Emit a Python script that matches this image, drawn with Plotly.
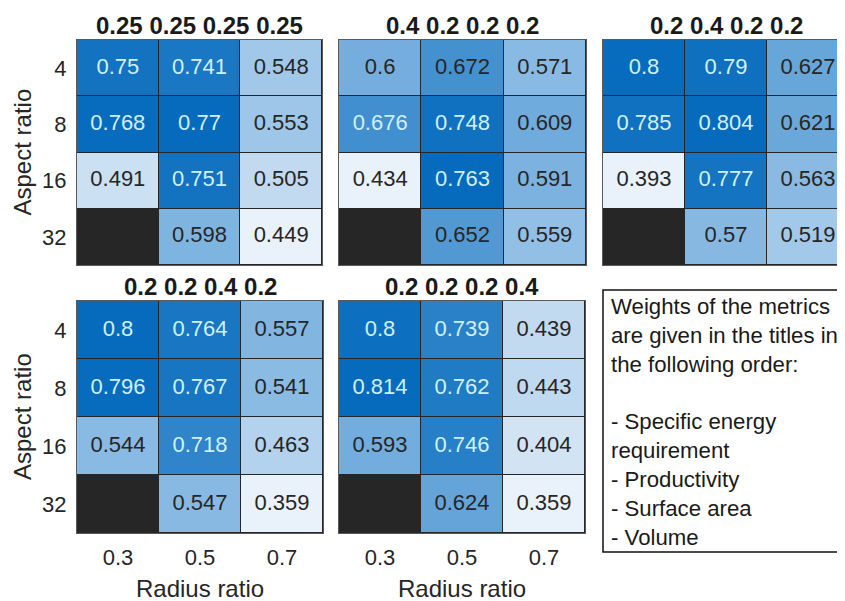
import plotly.graph_objects as go
import numpy as np

# ---------------- data ----------------
radius_ratio = ["0.3", "0.5", "0.7"]          # columns
aspect_ratio = ["4", "8", "16", "32"]         # rows (top to bottom)
titles = ["0.25 0.25 0.25 0.25", "0.4 0.2 0.2 0.2", "0.2 0.4 0.2 0.2",
          "0.2 0.2 0.4 0.2", "0.2 0.2 0.2 0.4"]

scores_a = [[0.75, 0.741, 0.548], [0.768, 0.77, 0.553], [0.491, 0.751, 0.505], [None, 0.598, 0.449]]
scores_b = [[0.6, 0.672, 0.571], [0.676, 0.748, 0.609], [0.434, 0.763, 0.591], [None, 0.652, 0.559]]
scores_c = [[0.8, 0.79, 0.627], [0.785, 0.804, 0.621], [0.393, 0.777, 0.563], [None, 0.57, 0.519]]
scores_d = [[0.8, 0.764, 0.557], [0.796, 0.767, 0.541], [0.544, 0.718, 0.463], [None, 0.547, 0.359]]
scores_e = [[0.8, 0.739, 0.439], [0.814, 0.762, 0.443], [0.593, 0.746, 0.404], [None, 0.624, 0.359]]

note_lines = ["Weights of the metrics", "are given in the titles in", "the following order:", "",
              "- Specific energy", "requirement", "- Productivity", "- Surface area", "- Volume"]

panels = [scores_a, scores_b, scores_c, scores_d, scores_e]

# ---------------- layout helpers ----------------
OFF = 8                      # page body margin
W, H = 845 - OFF, 601 - OFF  # figure size that fits the window
def fx(px): return (px - OFF) / W
def fy(py): return 1 - (py - OFF) / H

# pixel boxes in window coordinates (left, right, top, bottom)
boxes = [(77, 322, 40, 265), (339, 586, 40, 265), (603, 849, 40, 265),
         (77, 323, 301, 533), (339, 585, 301, 533)]

FONT = "Liberation Sans, Arial, sans-serif"
colorscale = [[0, "#e9f1fa"], [0.5, "#76afde"], [1, "#066bbd"]]
LIGHT_TXT = "#cff0ff"
DARK_TXT = "#262626"

fig = go.Figure()
layout_axes = {}
annotations = []

xs = list(range(len(radius_ratio)))
ys = list(range(len(aspect_ratio)))

for i, (vals, box, title) in enumerate(zip(panels, boxes, titles)):
    n = i + 1
    xa = "x" if n == 1 else f"x{n}"
    ya = "y" if n == 1 else f"y{n}"
    z = np.array([[np.nan if v is None else v for v in row] for row in vals], dtype=float)
    zmin, zmax = np.nanmin(z), np.nanmax(z)
    fig.add_trace(go.Heatmap(z=z, x=xs, y=ys, zmin=zmin, zmax=zmax, colorscale=colorscale,
                             showscale=False, xgap=1, ygap=1, hoverinfo="skip",
                             xaxis=xa, yaxis=ya))
    tx, ty, tt, tc = [], [], [], []
    for r in ys:
        for c in xs:
            v = vals[r][c]
            if v is None:
                continue
            tx.append(c); ty.append(r); tt.append(f"{v:.4g}")
            norm = (v - zmin) / (zmax - zmin)
            tc.append(LIGHT_TXT if norm > 0.73 else DARK_TXT)
    fig.add_trace(go.Scatter(x=tx, y=ty, text=tt, mode="text",
                             textfont=dict(family=FONT, size=22, color=tc),
                             hoverinfo="skip", showlegend=False, xaxis=xa, yaxis=ya))

    l, r_, t, b = box
    right_px = min(r_, 845)
    xr_end = -0.5 + 3 * (right_px - l) / (r_ - l)
    key_x = "xaxis" if n == 1 else f"xaxis{n}"
    key_y = "yaxis" if n == 1 else f"yaxis{n}"
    layout_axes[key_x] = dict(domain=[fx(l), min(fx(right_px), 1)], range=[-0.5, xr_end],
                              anchor=ya, tickvals=xs, ticktext=radius_ratio,
                              showticklabels=(n in (4, 5)), ticks="outside", ticklen=5,
                              tickcolor="rgba(0,0,0,0)", showgrid=False, zeroline=False,
                              showline=True, mirror=True, linecolor="#5a5a5a", linewidth=1,
                              tickfont=dict(family=FONT, size=22, color="#262626"),
                              fixedrange=True, automargin=False)
    layout_axes[key_y] = dict(domain=[fy(b), fy(t)], range=[3.5, -0.5],
                              anchor=xa, tickvals=ys, ticktext=aspect_ratio,
                              showticklabels=(n in (1, 4)), ticks="outside", ticklen=5,
                              tickcolor="rgba(0,0,0,0)", showgrid=False, zeroline=False,
                              showline=True, mirror=True, linecolor="#5a5a5a", linewidth=1,
                              tickfont=dict(family=FONT, size=22, color="#262626"),
                              fixedrange=True, automargin=False)
    # panel title
    title_y = t - 15
    annotations.append(dict(text=f"<b>{title}</b>", x=fx((l + r_) / 2), y=fy(title_y),
                            xref="paper", yref="paper", showarrow=False,
                            xanchor="center", yanchor="middle",
                            font=dict(family=FONT, size=24, color="#1a1a1a")))
    if n in (1, 4):
        annotations.append(dict(text="Aspect ratio", x=fx(22), y=fy((t + b) / 2),
                                xref="paper", yref="paper", showarrow=False, textangle=-90,
                                xanchor="center", yanchor="middle",
                                font=dict(family=FONT, size=24, color="#262626")))
    if n in (4, 5):
        annotations.append(dict(text="Radius ratio", x=fx((l + r_) / 2), y=fy(588),
                                xref="paper", yref="paper", showarrow=False,
                                xanchor="center", yanchor="middle",
                                font=dict(family=FONT, size=24, color="#262626")))

annotations.append(dict(text="<br>".join(note_lines), x=fx(609), y=fy(292),
                        xref="paper", yref="paper", showarrow=False, align="left",
                        xanchor="left", yanchor="top",
                        font=dict(family=FONT, size=22.2, color="#1a1a1a")))

fig.update_layout(width=W, height=H, margin=dict(l=0, r=0, t=0, b=0),
                  paper_bgcolor="white", plot_bgcolor="#262626", showlegend=False,
                  annotations=annotations,
                  shapes=[dict(type="rect", xref="paper", yref="paper",
                               x0=fx(603), x1=1.02, y0=fy(552), y1=fy(290),
                               line=dict(color="#111111", width=1.5))],
                  **layout_axes)

fig.write_html("out.html")
